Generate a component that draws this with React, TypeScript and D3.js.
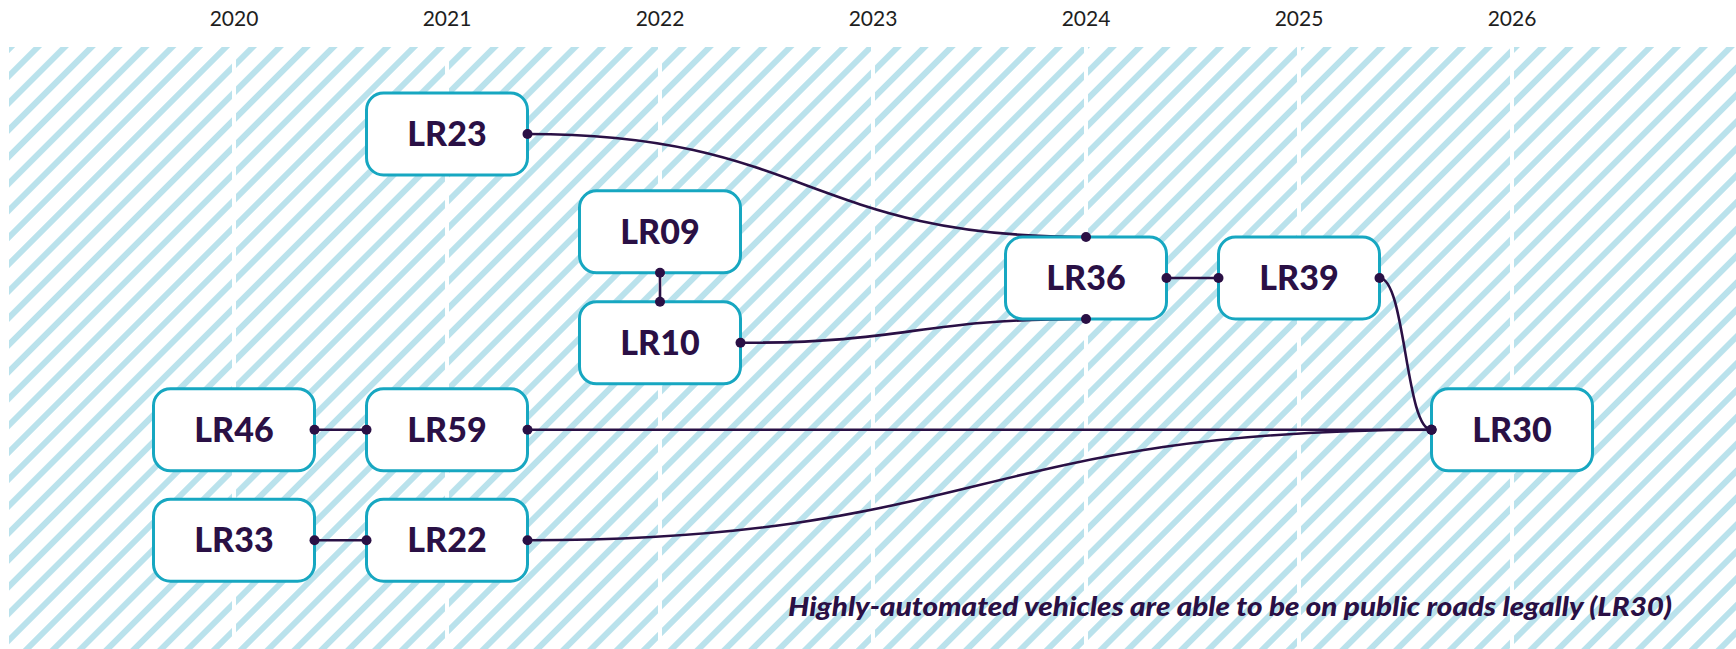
import * as d3 from "d3";

const years = [2020, 2021, 2022, 2023, 2024, 2025, 2026];

// nodes: label, year column, vertical level (0 = top of hatched band, 10 = bottom)
const nodeIds = ["LR23", "LR09", "LR10", "LR36", "LR39", "LR46", "LR59", "LR30", "LR33", "LR22"];
const nodeYears = [2021, 2022, 2022, 2024, 2025, 2020, 2021, 2026, 2020, 2021];
const nodeLevels = [1.45, 3.08, 4.93, 3.85, 3.85, 6.38, 6.38, 6.38, 8.22, 8.22];

// links: source -> target, with the side of each box they attach to
const linkSources = ["LR46", "LR33", "LR09", "LR36", "LR23", "LR10", "LR59", "LR22", "LR39"];
const linkTargets = ["LR59", "LR22", "LR10", "LR39", "LR36", "LR36", "LR30", "LR30", "LR30"];
const sourceSides = ["r", "r", "b", "r", "r", "r", "r", "r", "r"];
const targetSides = ["l", "l", "t", "l", "t", "b", "l", "l", "l"];

const caption = "Highly-automated vehicles are able to be on public roads legally (LR30)";

const W = 1736;
const H = 649;
const bandTop = 47;
const bandLeft = 9;
const boxW = 161;
const boxH = 82;

const ink = "#2a1045";
const teal = "#17a7c1";
const stripe = "#bae2ec";
const font = "Lato, 'Open Sans', sans-serif";

type Side = "l" | "r" | "t" | "b";

export default function App() {
  const x = d3.scaleLinear().domain([2020, 2026]).range([234, 1512]);
  const y = d3.scaleLinear().domain([0, 10]).range([bandTop, bandTop + 600]);

  const nodes = nodeIds.map((id, i) => ({
    id,
    cx: x(nodeYears[i]),
    cy: y(nodeLevels[i]),
  }));
  const byId = new Map(nodes.map((n) => [n.id, n]));

  const anchor = (id: string, side: Side): [number, number] => {
    const n = byId.get(id)!;
    if (side === "l") return [n.cx - boxW / 2, n.cy];
    if (side === "r") return [n.cx + boxW / 2, n.cy];
    if (side === "t") return [n.cx, n.cy - boxH / 2];
    return [n.cx, n.cy + boxH / 2];
  };

  const link = d3
    .linkHorizontal<{ source: [number, number]; target: [number, number] }, [number, number]>()
    .source((d) => d.source)
    .target((d) => d.target);

  const links = linkSources.map((s, i) => {
    const a = anchor(s, sourceSides[i] as Side);
    const b = anchor(linkTargets[i], targetSides[i] as Side);
    const straight = Math.abs(a[0] - b[0]) < 1 || Math.abs(a[1] - b[1]) < 3;
    const d = straight ? `M${a[0]},${a[1]}L${b[0]},${b[1]}` : link({ source: a, target: b }) ?? "";
    return { key: `${s}-${linkTargets[i]}`, d, a, b };
  });

  return (
    <svg
      width={W}
      height={H}
      style={{ position: "absolute", left: 0, top: 0 }}
      fontFamily={font}
    >
      <defs>
        <pattern
          id="hatch"
          patternUnits="userSpaceOnUse"
          width={19}
          height={19}
          patternTransform="rotate(45)"
        >
          <rect width={19} height={19} fill="#fff" />
          <rect width={6} height={19} fill={stripe} />
        </pattern>
      </defs>
      <rect x={0} y={0} width={W} height={H} fill="#fff" />
      <rect x={bandLeft} y={bandTop} width={W - bandLeft} height={H - bandTop} fill="url(#hatch)" />

      {years.map((yr) => (
        <g key={yr}>
          <line x1={x(yr)} x2={x(yr)} y1={bandTop} y2={H} stroke="#fff" strokeWidth={4} />
          <text x={x(yr)} y={26} textAnchor="middle" fontSize={21} fill="#1e1e1e">
            {yr}
          </text>
        </g>
      ))}

      <g fill="none" stroke={ink} strokeWidth={2.6}>
        {links.map((l) => (
          <path key={l.key} d={l.d} />
        ))}
      </g>

      {nodes.map((n) => (
        <g key={n.id}>
          <rect
            x={n.cx - boxW / 2}
            y={n.cy - boxH / 2}
            width={boxW}
            height={boxH}
            rx={17}
            fill="#fff"
            stroke={teal}
            strokeWidth={3}
          />
          <text
            x={n.cx}
            y={n.cy + 12}
            textAnchor="middle"
            fontSize={34}
            fontWeight={900}
            fill={ink}
          >
            {n.id}
          </text>
        </g>
      ))}

      <g fill={ink}>
        {links.flatMap((l) => [
          <circle key={l.key + "a"} cx={l.a[0]} cy={l.a[1]} r={5} />,
          <circle key={l.key + "b"} cx={l.b[0]} cy={l.b[1]} r={5} />,
        ])}
      </g>

      <text
        x={W - 64}
        y={616}
        textAnchor="end"
        fontSize={27}
        fontWeight={900}
        fontStyle="italic"
        fill={ink}
        textLength={884}
        lengthAdjust="spacingAndGlyphs"
      >
        {caption}
      </text>
    </svg>
  );
}
